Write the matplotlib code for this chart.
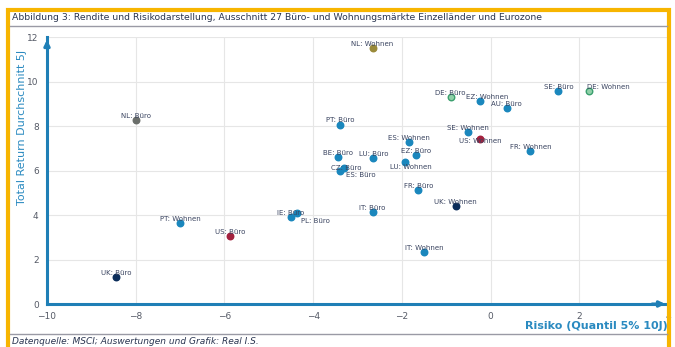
import matplotlib.pyplot as plt
from matplotlib.lines import Line2D
from matplotlib.patches import Rectangle

# data
labels = ["NL: Büro", "NL: Wohnen", "PT: Büro", "BE: Büro", "LU: Büro", "CZ: Büro",
          "ES: Büro", "ES: Wohnen", "EZ: Büro", "LU: Wohnen", "FR: Büro", "IT: Büro",
          "UK: Wohnen", "IT: Wohnen", "DE: Büro", "EZ: Wohnen", "AU: Büro", "SE: Büro",
          "DE: Wohnen", "SE: Wohnen", "US: Wohnen", "FR: Wohnen", "PT: Wohnen", "US: Büro",
          "IE: Büro", "PL: Büro", "UK: Büro"]
risk = [-8.0, -2.66, -3.39, -3.45, -2.64, -3.39, -3.30, -1.83, -1.69, -1.92, -1.63, -2.66,
        -0.79, -1.49, -0.90, -0.23, 0.36, 1.53, 2.21, -0.52, -0.23, 0.90, -7.0, -5.87,
        -4.51, -4.36, -8.44]
ret = [8.27, 11.5, 8.05, 6.6, 6.56, 6.0, 6.1, 7.28, 6.7, 6.4, 5.12, 4.13, 4.4, 2.34,
       9.3, 9.12, 8.81, 9.57, 9.57, 7.73, 7.42, 6.88, 3.64, 3.06, 3.9, 4.09, 1.21]

blue = "#1a87bd"
special = {"NL: Büro": ("#6b6f6b", "#6b6f6b"), "NL: Wohnen": ("#9a8a3a", "#9a8a3a"),
           "DE: Büro": ("#8fd0a8", "#3a9f6e"), "DE: Wohnen": ("#8fd0a8", "#3a9f6e"),
           "US: Wohnen": ("#a3213e", "#a3213e"), "US: Büro": ("#a3213e", "#a3213e"),
           "UK: Büro": ("#0b2d5a", "#0b2d5a"), "UK: Wohnen": ("#0b2d5a", "#0b2d5a")}
# label offsets in points (default: centred just above the dot)
offsets = {"ES: Büro": (12, -7), "LU: Wohnen": (4, -6), "PL: Büro": (13, -8),
           "CZ: Büro": (4, 0), "EZ: Wohnen": (5, 1), "DE: Wohnen": (14, 1),
           "US: Wohnen": (0, -4)}

axcol = "#1f7fb6"
txtcol = "#555a66"

fig = plt.figure(figsize=(6.75, 3.47), dpi=100)
fig.patch.set_facecolor("white")

# gold frame and title
fig.patches.append(Rectangle((8 / 675, -0.05), 661 / 675, 1 - 10 / 347 + 0.05,
                             transform=fig.transFigure, fill=False,
                             edgecolor="#f7b500", linewidth=3))
fig.text(12 / 675, 1 - 17 / 347, "Abbildung 3: Rendite und Risikodarstellung, Ausschnitt 27 Büro- und "
         "Wohnungsmärkte Einzelländer und Eurozone", fontsize=6.7, color="#2a3550",
         va="center", ha="left")
fig.add_artist(Line2D([10 / 675, 667 / 675], [1 - 26 / 347] * 2, color="#9a9aa5", lw=1))
fig.add_artist(Line2D([10 / 675, 667 / 675], [1 - 334 / 347] * 2, color="#9a9aa5", lw=1))
fig.text(12 / 675, 1 - 341 / 347, "Datenquelle: MSCI; Auswertungen und Grafik: Real I.S.",
         fontsize=6.5, style="italic", color="#2a3550", va="center", ha="left")

ax = fig.add_axes([47 / 675, 1 - 304 / 347, 621 / 675, 267 / 347])
ax.set_xlim(-10, 4)
ax.set_ylim(0, 12)
ax.set_xticks(range(-10, 5, 2))
ax.set_yticks(range(0, 13, 2))
ax.grid(True, color="#e6e6e6", lw=0.8)
ax.set_axisbelow(True)
for s in ["top", "right"]:
    ax.spines[s].set_visible(False)
for s in ["left", "bottom"]:
    ax.spines[s].set_color(axcol)
    ax.spines[s].set_linewidth(2.2)
ax.tick_params(length=0, labelsize=6.5, labelcolor=txtcol, pad=6)
ax.annotate("", xy=(0, 1.0), xytext=(0, 0.95), xycoords="axes fraction",
            arrowprops=dict(arrowstyle="-|>", color=axcol, lw=2.2, mutation_scale=8))
ax.annotate("", xy=(1.0, 0), xytext=(0.97, 0), xycoords="axes fraction",
            arrowprops=dict(arrowstyle="-|>", color=axcol, lw=2.2, mutation_scale=8))

for lab, x, y in zip(labels, risk, ret):
    fc, ec = special.get(lab, (blue, blue))
    ax.scatter(x, y, s=22, color=fc, edgecolors=ec, linewidths=1, zorder=3)
    dx, dy = offsets.get(lab, (0, 1))
    ax.annotate(lab, (x, y), xytext=(dx, dy), textcoords="offset points",
                ha="center", va="bottom", fontsize=5, color="#3a4460", zorder=4)

ax.set_ylabel("Total Return Durchschnitt 5J", fontsize=8, color="#2a8ac0")
ax.yaxis.set_label_coords(-0.033, 0.66)
fig.text(668 / 675, 1 - 326 / 347, "Risiko (Quantil 5% 10J)", fontsize=8, color="#2a8ac0",
         fontweight="bold", ha="right", va="center")

fig.savefig("out.png", dpi=100)
